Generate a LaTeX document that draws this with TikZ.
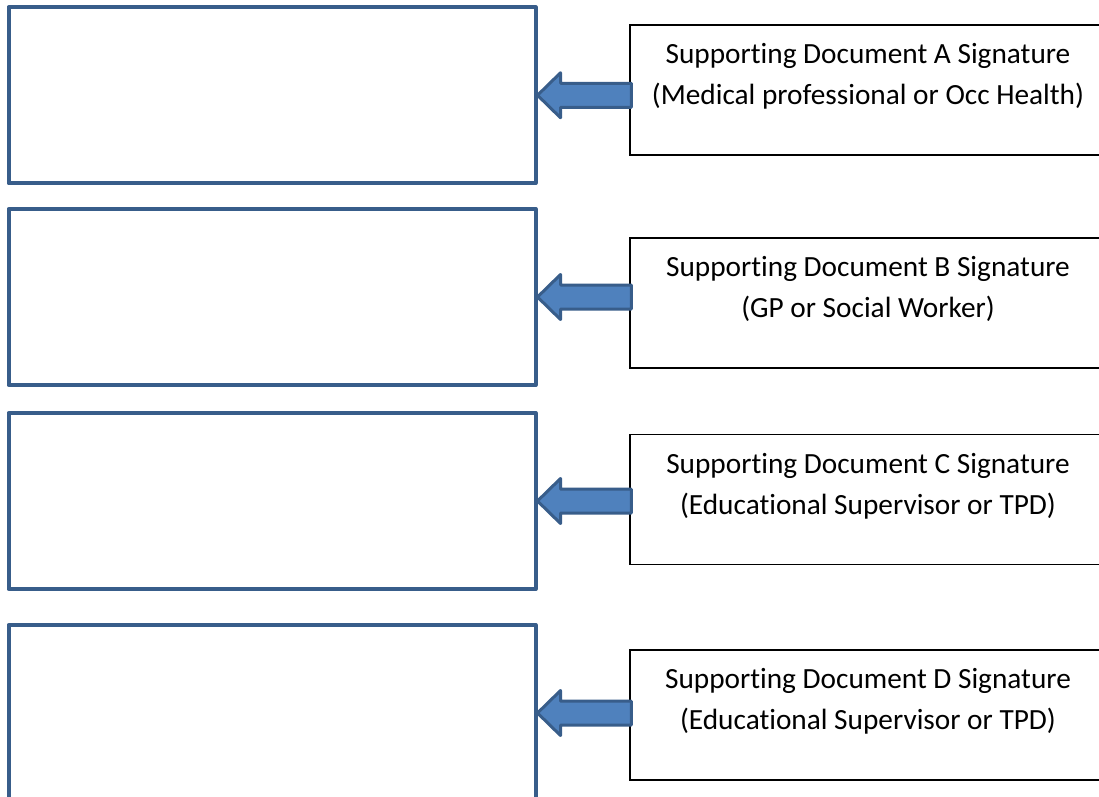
\documentclass[tikz,border=0pt]{standalone}
\usepackage{fontspec}
\setmainfont{Carlito}[RawFeature=-liga]
\usetikzlibrary{calc}
\definecolor{frameblue}{RGB}{56,93,138}
\definecolor{fillblue}{RGB}{79,129,189}
\tikzset{
  sigbox/.style={draw=frameblue, line width=4pt, line join=round, minimum width=527pt, minimum height=176pt, inner sep=0pt},
  whobox/.style={draw=black, line width=1.5pt, minimum width=476pt, minimum height=130pt, inner sep=0pt},
  whotext/.style={font=\fontsize{29.3}{41}\selectfont, align=center, inner sep=0pt, anchor=north},
  blockarrow/.style={draw=frameblue, fill=fillblue, line width=3pt, line join=round}
}
% block arrow from the right-hand box #2 into the signature box #1
\newcommand\sigarrow[2]{%
  \draw[blockarrow] (#1.east) -- ++(23,-22.5) -- ++(0,10.5)
    -- ($(#2.west |- #1.east)+(2,-12)$) -- ++(0,24)
    -- ($(#1.east)+(23,12)$) -- ++(0,10.5) -- cycle;}
\begin{document}
\begin{tikzpicture}[x=1pt, y=-1pt]
  \useasboundingbox (0,0) rectangle (1099,796);
  \fill[white] (0,0) rectangle (1099,796);

  % signature boxes
  \node[sigbox] (L1) at (272,95.25) {};
  \node[sigbox] (L2) at (272,297) {};
  \node[sigbox] (L3) at (272,501) {};
  \node[sigbox] (L4) at (272,713) {};

  % who signs each supporting document
  \node[whobox] (R1) at (868,90) {};
  \node[whobox] (R2) at (868,303) {};
  \node[whobox] (R3) at (868,499.5) {};
  \node[whobox] (R4) at (868,715) {};

  \node[whotext] (T1) at ([yshift=-19pt]R1.north) {Supporting Document A Signature\\(Medical professional or Occ Health)};
  \node[whotext] (T2) at ([yshift=-19pt]R2.north) {Supporting Document B Signature\\(GP or Social Worker)};
  \node[whotext] (T3) at ([yshift=-19pt]R3.north) {Supporting Document C Signature\\(Educational Supervisor or TPD)};
  \node[whotext] (T4) at ([yshift=-19pt]R4.north) {Supporting Document D Signature\\(Educational Supervisor or TPD)};

  \sigarrow{L1}{R1}
  \sigarrow{L2}{R2}
  \sigarrow{L3}{R3}
  \sigarrow{L4}{R4}
\end{tikzpicture}
\end{document}
